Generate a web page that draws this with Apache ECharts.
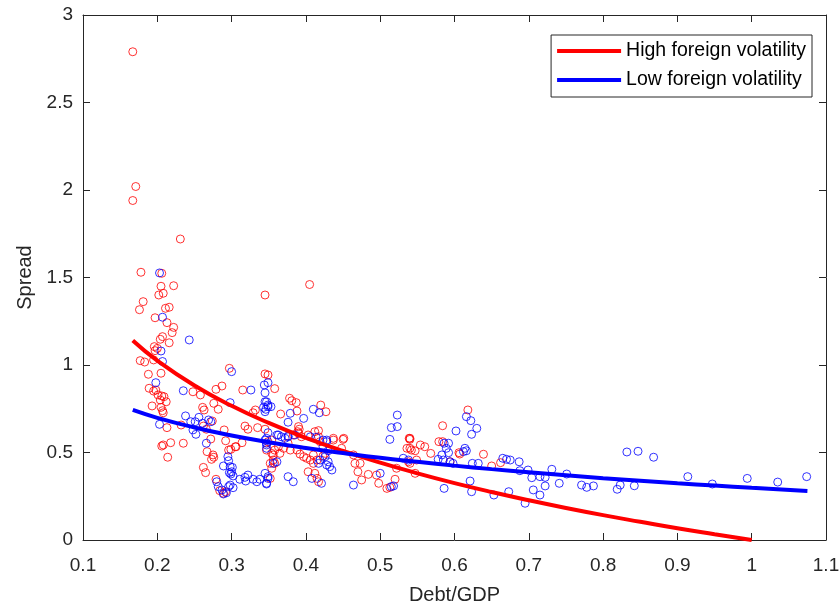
<!DOCTYPE html>
<html>
<head>
<meta charset="utf-8">
<script src="https://cdn.jsdelivr.net/npm/echarts@6/dist/echarts.min.js"></script>
<style>html,body{margin:0;padding:0;background:#fff;}#c{width:840px;height:605px;}</style>
</head>
<body>
<div id="c"></div>
<script>
var xTicks = [0.1,0.2,0.3,0.4,0.5,0.6,0.7,0.8,0.9,1.0,1.1];
var yTicks = [0,0.5,1,1.5,2,2.5,3];
var seriesNames = ['High foreign volatility','Low foreign volatility'];

var highPoints = [
[0.167,2.79],[0.171,2.02],[0.167,1.94],[0.231,1.72],[0.178,1.53],[0.206,1.524],[0.205,1.45],[0.222,1.453],[0.202,1.40],[0.208,1.41],[0.345,1.40],[0.405,1.46],[0.181,1.362],[0.176,1.316],[0.211,1.324],[0.216,1.33],[0.197,1.27],
[0.213,1.242],[0.222,1.215],[0.220,1.185],[0.207,1.162],[0.204,1.147],[0.216,1.127],[0.196,1.105],[0.2,1.095],[0.197,1.082],[0.177,1.025],[0.183,1.017],[0.195,1.029],[0.205,0.953],[0.188,0.947],[0.297,0.981],[0.345,0.949],[0.349,0.943],
[0.189,0.867],[0.195,0.851],[0.198,0.857],[0.201,0.829],[0.206,0.823],[0.209,0.819],[0.204,0.8],[0.212,0.79],[0.248,0.847],[0.258,0.829],[0.279,0.861],[0.287,0.88],[0.315,0.857],
[0.193,0.766],[0.205,0.758],[0.207,0.739],[0.208,0.727],[0.276,0.781],[0.261,0.758],[0.263,0.743],[0.282,0.747],[0.332,0.743],[0.329,0.727],
[0.232,0.657],[0.213,0.642],[0.262,0.651],[0.266,0.633],[0.274,0.68],[0.29,0.629],[0.318,0.651],[0.322,0.633],[0.335,0.642],[0.345,0.633],
[0.208,0.543],[0.206,0.537],[0.218,0.556],[0.235,0.553],[0.272,0.577],[0.292,0.567],[0.305,0.533],[0.214,0.473],
[0.267,0.505],[0.275,0.486],[0.273,0.461],[0.276,0.473],[0.262,0.415],[0.265,0.385],[0.296,0.514],[0.299,0.518],[0.306,0.533],[0.314,0.556],
[0.279,0.347],[0.284,0.282],[0.289,0.267],[0.292,0.276],
[0.358,0.865],[0.378,0.81],[0.381,0.796],[0.387,0.785],[0.366,0.72],[0.388,0.737],[0.42,0.771],[0.427,0.733],[0.39,0.648],[0.391,0.633],[0.389,0.619],[0.417,0.625],[0.539,0.581],[0.437,0.581],[0.451,0.581],
[0.383,0.6],[0.39,0.61],[0.394,0.59],[0.403,0.6],[0.412,0.619],[0.417,0.59],[0.419,0.562],[0.437,0.571],[0.45,0.575],[0.448,0.524],[0.426,0.495],[0.423,0.48],
[0.349,0.562],[0.354,0.571],[0.363,0.533],[0.37,0.524],[0.376,0.553],[0.379,0.514],[0.388,0.514],[0.392,0.491],[0.397,0.476],[0.401,0.467],[0.406,0.457],[0.41,0.486],[0.415,0.457],[0.41,0.438],
[0.354,0.495],[0.356,0.457],[0.352,0.438],[0.358,0.438],[0.354,0.41],[0.352,0.352],[0.403,0.39],[0.412,0.381],[0.415,0.352],[0.417,0.333],
[0.466,0.438],[0.473,0.438],[0.47,0.39],[0.475,0.343],[0.484,0.375],[0.495,0.371],[0.498,0.324],[0.509,0.295],[0.513,0.301],[0.52,0.347],[0.522,0.41],[0.538,0.447],[0.54,0.581],[0.536,0.524],[0.542,0.514],[0.464,0.486],
[0.347,0.514],[0.358,0.514],[0.365,0.495],[0.356,0.486],
[0.618,0.743],[0.584,0.653],[0.579,0.562],[0.584,0.562],[0.606,0.499],[0.607,0.491],[0.594,0.447],[0.639,0.49],[0.54,0.575],[0.54,0.524],[0.547,0.51],[0.554,0.543],[0.56,0.533],[0.568,0.495],[0.549,0.457],[0.54,0.438],[0.547,0.381],[0.65,0.423],[0.662,0.442]
];

var lowPoints = [
[0.203,1.526],[0.207,1.273],[0.243,1.143],[0.205,1.08],[0.207,1.02],[0.3,0.962],[0.344,0.886],[0.349,0.899],[0.198,0.899],[0.235,0.853],[0.326,0.857],[0.298,0.785],[0.343,0.758],[0.346,0.747],[0.349,0.771],[0.347,0.79],
[0.238,0.709],[0.245,0.676],[0.251,0.676],[0.256,0.701],[0.261,0.667],[0.269,0.686],[0.272,0.676],[0.203,0.661],[0.248,0.629],[0.252,0.604],[0.266,0.553],[0.347,0.581],[0.347,0.543],
[0.295,0.476],[0.296,0.453],[0.289,0.423],[0.298,0.419],[0.301,0.415],[0.3,0.39],[0.299,0.377],[0.302,0.366],[0.297,0.385],[0.347,0.524],
[0.311,0.347],[0.318,0.358],[0.322,0.371],[0.319,0.337],[0.329,0.347],[0.334,0.333],[0.338,0.347],[0.347,0.32],[0.349,0.352],
[0.28,0.333],[0.282,0.305],[0.287,0.286],[0.289,0.263],[0.296,0.305],[0.298,0.314],[0.302,0.299],[0.293,0.27],
[0.345,0.841],[0.345,0.79],[0.349,0.762],[0.353,0.762],[0.345,0.733],[0.379,0.724],[0.376,0.673],[0.397,0.695],[0.41,0.747],[0.418,0.727],[0.515,0.642],[0.523,0.648],[0.523,0.714],[0.513,0.575],
[0.363,0.6],[0.367,0.59],[0.376,0.59],[0.385,0.6],[0.406,0.59],[0.414,0.587],[0.423,0.571],[0.428,0.571],
[0.349,0.613],[0.361,0.6],[0.372,0.581],[0.376,0.594],[0.428,0.562],[0.423,0.533],[0.43,0.51],[0.426,0.476],[0.43,0.447],[0.432,0.419],[0.435,0.4],[0.428,0.429],[0.419,0.457],[0.417,0.438],[0.361,0.447],[0.356,0.438],[0.345,0.381],[0.349,0.362],[0.347,0.324],[0.376,0.362],[0.383,0.333],[0.408,0.352],[0.421,0.324],
[0.464,0.314],[0.5,0.381],[0.515,0.305],[0.518,0.309],[0.531,0.467],[0.538,0.457],[0.345,0.571],[0.347,0.553],
[0.616,0.705],[0.622,0.682],[0.63,0.638],[0.623,0.604],[0.602,0.623],[0.586,0.553],[0.592,0.553],[0.589,0.524],[0.592,0.499],[0.583,0.486],[0.578,0.461],[0.585,0.457],[0.594,0.447],[0.598,0.438],[0.614,0.524],[0.616,0.51],[0.612,0.505],[0.624,0.438],[0.632,0.438],[0.665,0.467],[0.67,0.461],[0.675,0.457],[0.687,0.447],
[0.688,0.396],[0.699,0.4],[0.704,0.356],[0.715,0.362],[0.722,0.358],[0.731,0.404],[0.741,0.324],[0.751,0.377],[0.722,0.309],[0.715,0.257],[0.706,0.286],[0.695,0.21],[0.673,0.276],[0.653,0.257],[0.621,0.337],[0.623,0.276],[0.586,0.295],
[0.832,0.503],[0.847,0.507],[0.868,0.473],[0.771,0.314],[0.778,0.301],[0.787,0.309],[0.819,0.29],[0.823,0.314],[0.842,0.31],[0.914,0.362],[0.947,0.32],[0.994,0.352],[1.035,0.331],[1.074,0.362]
];

var highFitX = [0.167,0.2,0.25,0.3,0.35,0.4,0.45,0.5,0.55,0.6,0.65,0.7,0.75,0.8,0.85,0.9,0.95,1.0];
var highFitY = [1.14,1.025,0.883,0.767,0.669,0.584,0.509,0.442,0.381,0.325,0.274,0.227,0.183,0.142,0.104,0.067,0.033,0.0];
var lowFitX = [0.167,0.2,0.25,0.3,0.35,0.4,0.45,0.5,0.55,0.6,0.65,0.7,0.75,0.8,0.85,0.9,0.95,1.0,1.075];
var lowFitY = [0.743,0.698,0.643,0.597,0.559,0.526,0.497,0.470,0.447,0.425,0.405,0.387,0.370,0.353,0.338,0.324,0.311,0.298,0.280];

function zip(a,b){return a.map(function(v,i){return [v,b[i]];});}

var FONT = 'Liberation Sans, Arial, Helvetica, sans-serif';
var AX = '#262626';
function xAx(pos, labels){
  return {type:'value', position:pos, min:xTicks[0], max:xTicks[xTicks.length-1], interval:0.1,
    axisLine:{show:true, onZero:false, lineStyle:{color:AX, width:1}},
    axisTick:{show:true, inside:true, length:7, lineStyle:{color:AX}},
    axisLabel:{show:labels, color:AX, fontSize:19, fontFamily:FONT, margin:16},
    splitLine:{show:false},
    name: labels ? 'Debt/GDP' : '', nameLocation:'middle', nameGap:45,
    nameTextStyle:{color:AX, fontSize:20, fontFamily:FONT}};
}
function yAx(pos, labels){
  return {type:'value', position:pos, min:yTicks[0], max:yTicks[yTicks.length-1], interval:0.5,
    axisLine:{show:true, onZero:false, lineStyle:{color:AX, width:1}},
    axisTick:{show:true, inside:true, length:7, lineStyle:{color:AX}},
    axisLabel:{show:labels, color:AX, fontSize:19, fontFamily:FONT, margin:10},
    splitLine:{show:false},
    name: labels ? 'Spread' : '', nameLocation:'middle', nameGap:45,
    nameTextStyle:{color:AX, fontSize:20, fontFamily:FONT}};
}

var chart = echarts.init(document.getElementById('c'), null, {renderer:'canvas'});
chart.setOption({
  animation:false,
  backgroundColor:'#fff',
  grid:{left:83, right:14, top:15, bottom:65, containLabel:false, outerBoundsMode:'none'},
  xAxis:[xAx('bottom', true), xAx('top', false)],
  yAxis:[yAx('left', true), yAx('right', false)],
  legend:{
    data:[{name:seriesNames[0]},{name:seriesNames[1]}],
    orient:'vertical', right:28, top:35,
    backgroundColor:'#fff', borderColor:AX, borderWidth:1, padding:[6,6,7,6],
    itemWidth:64, itemHeight:4, itemGap:9, icon:'rect',
    textStyle:{color:'#000', fontSize:19.5, fontFamily:FONT}
  },
  series:[
    {type:'scatter', name:'highPts', data:highPoints, symbol:'circle', symbolSize:8,
     itemStyle:{color:'rgba(0,0,0,0)', borderColor:'#ff0000', borderWidth:1}, z:2, silent:true},
    {type:'scatter', name:'lowPts', data:lowPoints, symbol:'circle', symbolSize:8,
     itemStyle:{color:'rgba(0,0,0,0)', borderColor:'#0000ff', borderWidth:1}, z:2, silent:true},
    {type:'line', name:seriesNames[0], data:zip(highFitX, highFitY), smooth:true, showSymbol:false,
     lineStyle:{color:'#ff0000', width:4}, itemStyle:{color:'#ff0000'}, z:3},
    {type:'line', name:seriesNames[1], data:zip(lowFitX, lowFitY), smooth:true, showSymbol:false,
     lineStyle:{color:'#0000ff', width:4}, itemStyle:{color:'#0000ff'}, z:3}
  ]
});
</script>
</body>
</html>
